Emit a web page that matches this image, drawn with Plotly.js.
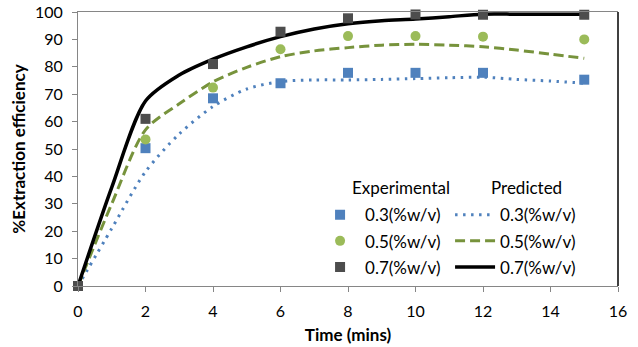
<!DOCTYPE html>
<html>
<head>
<meta charset="utf-8">
<script src="https://cdn.plot.ly/plotly-3.0.1.min.js"></script>
<style>html,body{margin:0;padding:0;background:#fff;}#chart{width:638px;height:347px;}</style>
</head>
<body>
<div id="chart"></div>
<script>
// Experimental data
var expTime = [0, 2, 4, 6, 8, 10, 12, 15];
var exp03 = [0, 50.3, 68.5, 74, 77.8, 77.8, 77.8, 75.3];
var exp05 = [0, 53.5, 72.4, 86.4, 91.2, 91.2, 91, 90];
var exp07 = [0, 61, 81, 92.8, 97.7, 99.1, 99, 99];

// Predicted curves
var predTime = [0, 1, 2, 3, 4, 5, 6, 7, 8, 9, 10, 11, 12, 13, 14, 15];
var pred03 = [0, 21, 41.7, 55.5, 65.5, 71.9, 74.6, 75.2, 75.2, 75.4, 75.7, 76, 76.2, 75.4, 74.8, 74];
var pred05 = [0, 30, 57, 66.5, 74.5, 79.8, 83.7, 85.8, 87, 87.9, 88.2, 87.9, 87.3, 86.1, 84.6, 83.1];
var pred07 = [0, 36, 67.5, 77, 82.8, 87.3, 91, 93.8, 95.7, 96.8, 97.4, 98.3, 99.2, 99.2, 99.2, 99.2];

var labels = ['0.3(%w/v)', '0.5(%w/v)', '0.7(%w/v)'];
var legendHeads = ['Experimental', 'Predicted'];
var xTicks = [0, 2, 4, 6, 8, 10, 12, 14, 16];
var yTicks = [0, 10, 20, 30, 40, 50, 60, 70, 80, 90, 100];

var FONT = 'Lato, "Open Sans", sans-serif';

function line(y, name, color, width, dash, grp) {
  return {x: predTime, y: y, name: name, type: 'scatter', mode: 'lines',
    line: {color: color, width: width, dash: dash, shape: 'spline', smoothing: 0.8},
    legend: 'legend2', legendgroup: grp, cliponaxis: false, hoverinfo: 'skip'};
}
function pts(y, name, color, symbol, grp) {
  return {x: expTime, y: y, name: name, type: 'scatter', mode: 'markers',
    marker: {color: color, size: 10, symbol: symbol},
    legend: 'legend', legendgroup: grp, cliponaxis: false, hoverinfo: 'skip'};
}

var traces = [
  line(pred03, labels[0], '#4F81BD', 3, '2.5px,5.5px', 'p1'),
  line(pred05, labels[1], '#77933C', 3, '10px,5px', 'p2'),
  line(pred07, labels[2], '#000000', 3.5, 'solid', 'p3'),
  pts(exp03, labels[0], '#4F81BD', 'square', 'e1'),
  pts(exp05, labels[1], '#9BBB59', 'circle', 'e2'),
  pts(exp07, labels[2], '#4D4D4D', 'square', 'e3')
];

var layout = {
  width: 638, height: 347,
  margin: {l: 78, r: 20, t: 12, b: 61},
  paper_bgcolor: '#fff', plot_bgcolor: '#fff',
  font: {family: FONT, size: 16, color: '#000'},
  showlegend: true,
  xaxis: {
    range: [0, 16], tickvals: xTicks, ticktext: xTicks.map(String),
    showgrid: false, zeroline: false, showline: true, linecolor: '#868686', linewidth: 1,
    mirror: true, ticks: 'outside', ticklen: 5, tickcolor: '#868686',
    ticklabelstandoff: 6,
    tickfont: {family: FONT, size: 16},
    title: {text: 'Time (mins)', font: {family: FONT, size: 17, weight: 'bold'}, standoff: 9}
  },
  yaxis: {
    range: [0, 100], tickvals: yTicks, ticktext: yTicks.map(String),
    showgrid: false, zeroline: false, showline: true, linecolor: '#868686', linewidth: 1,
    ticks: 'outside', ticklen: 5, tickcolor: '#868686',
    ticklabelstandoff: 6,
    tickfont: {family: FONT, size: 16},
    title: {text: '%Extraction efficiency', font: {family: FONT, size: 17, weight: 'bold'}, standoff: 5}
  },
  legend: {
    x: 0.439, y: 0.324, xanchor: 'left', yanchor: 'top', itemwidth: 40,
    bgcolor: 'rgba(0,0,0,0)', traceorder: 'grouped', tracegroupgap: 1,
    font: {family: FONT, size: 17}
  },
  legend2: {
    x: 0.689, y: 0.324, xanchor: 'left', yanchor: 'top', itemwidth: 40,
    bgcolor: 'rgba(0,0,0,0)', traceorder: 'grouped', tracegroupgap: 1,
    font: {family: FONT, size: 17}
  },
  annotations: [
    {text: legendHeads[0], xref: 'paper', yref: 'paper', x: 0.598, y: 0.358,
     xanchor: 'center', yanchor: 'middle', showarrow: false, font: {family: FONT, size: 17}},
    {text: legendHeads[1], xref: 'paper', yref: 'paper', x: 0.831, y: 0.358,
     xanchor: 'center', yanchor: 'middle', showarrow: false, font: {family: FONT, size: 17}}
  ],
  shapes: [
    {type: 'line', xref: 'paper', yref: 'paper', x0: 1, x1: 1, y0: 0, y1: 1,
     line: {color: '#000', width: 1.5}}
  ]
};

Plotly.newPlot('chart', traces, layout, {staticPlot: true, displayModeBar: false});
</script>
</body>
</html>
